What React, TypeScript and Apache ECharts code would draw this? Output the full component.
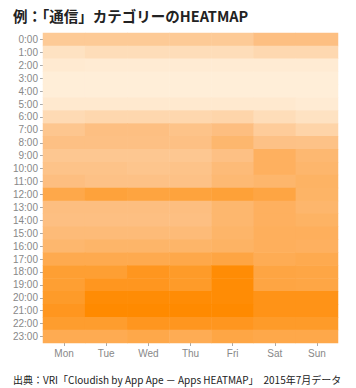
import React, { useEffect, useRef } from "react";
import * as echarts from "echarts";

const days = ["Mon", "Tue", "Wed", "Thu", "Fri", "Sat", "Sun"];
const hours = [
  "0:00", "1:00", "2:00", "3:00", "4:00", "5:00", "6:00", "7:00", "8:00", "9:00", "10:00", "11:00",
  "12:00", "13:00", "14:00", "15:00", "16:00", "17:00", "18:00", "19:00", "20:00", "21:00", "22:00", "23:00",
];

// intensity per hour (rows) for Mon..Sun (columns)
const intensity: number[][] = [
  [38, 38, 38, 38, 38, 49, 49],
  [14, 19, 19, 19, 19, 24, 24],
  [6, 5, 5, 5, 5, 5, 5],
  [2, 2, 2, 2, 2, 2, 2],
  [2, 2, 2, 2, 2, 2, 2],
  [7, 7, 7, 7, 7, 7, 5],
  [22, 25, 25, 25, 27, 19, 14],
  [42, 49, 49, 45, 50, 36, 28],
  [48, 48, 48, 48, 57, 47, 46],
  [41, 41, 41, 41, 48, 63, 56],
  [45, 45, 43, 45, 53, 63, 58],
  [50, 47, 47, 47, 55, 58, 61],
  [71, 77, 75, 76, 78, 74, 60],
  [50, 50, 50, 50, 57, 63, 58],
  [49, 49, 49, 49, 57, 63, 61],
  [53, 53, 53, 53, 59, 64, 64],
  [57, 59, 59, 59, 61, 64, 63],
  [69, 69, 69, 71, 74, 67, 69],
  [80, 80, 88, 84, 98, 74, 73],
  [80, 88, 88, 84, 98, 74, 73],
  [84, 98, 98, 98, 98, 91, 91],
  [88, 100, 100, 100, 100, 91, 91],
  [82, 82, 88, 88, 88, 84, 84],
  [68, 68, 71, 67, 73, 71, 71],
];

const titleText = "例：「通信」カテゴリーのHEATMAP";
const sourceText = "出典：VRI「Cloudish by App Ape － Apps HEATMAP」　2015年7月データ";

export default function App() {
  const ref = useRef<HTMLDivElement>(null);
  useEffect(() => {
    if (!ref.current) return;
    const chart = echarts.init(ref.current, null, { renderer: "svg" });
    const data: [number, number, number][] = [];
    intensity.forEach((row, h) => row.forEach((v, d) => data.push([d, h, v])));
    chart.setOption({
      animation: false,
      backgroundColor: "#ffffff",
      title: [
        {
          text: titleText,
          left: 8,
          top: 3,
          textStyle: { fontSize: 14.5, fontWeight: "bold", color: "#222", fontFamily: "Noto Sans CJK JP" },
        },
        {
          text: sourceText,
          left: 8,
          top: 369,
          textStyle: { fontSize: 10, fontWeight: "normal", color: "#222", fontFamily: "Noto Sans CJK JP" },
        },
      ],
      grid: { left: 43, top: 33, right: 18, bottom: 45 },
      xAxis: {
        type: "category",
        data: days,
        axisLine: { show: false },
        axisTick: { show: true, alignWithLabel: true, length: 3, lineStyle: { color: "#aaa" } },
        axisLabel: { color: "#888", fontSize: 10, margin: 5, interval: 0, fontFamily: "Liberation Sans" },
        splitArea: { show: false },
      },
      yAxis: {
        type: "category",
        data: hours,
        inverse: true,
        axisLine: { show: false },
        axisTick: { show: true, alignWithLabel: true, interval: 0, length: 3, lineStyle: { color: "#aaa" } },
        axisLabel: { color: "#888", fontSize: 10, margin: 5, interval: 0, fontFamily: "Liberation Sans" },
      },
      visualMap: {
        show: false,
        min: 0,
        max: 100,
        inRange: { color: ["#FFF0DC", "#FDBE80", "#FF8A00"] },
      },
      series: [
        {
          type: "heatmap",
          data,
          itemStyle: { borderWidth: 0 },
          emphasis: { disabled: true },
        },
      ],
    });
    return () => chart.dispose();
  }, []);
  return (
    <div
      ref={ref}
      style={{ position: "fixed", left: 0, top: 0, width: 356, height: 388 }}
    />
  );
}
